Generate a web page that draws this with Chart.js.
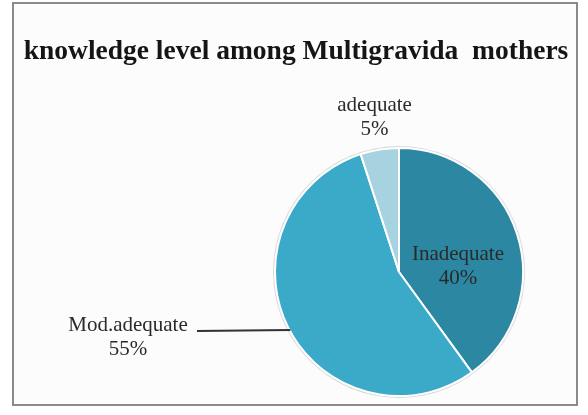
<!DOCTYPE html>
<html>
<head>
<meta charset="utf-8">
<script src="https://cdn.jsdelivr.net/npm/chart.js@4/dist/chart.umd.min.js"></script>
<style>
  html, body { margin: 0; padding: 0; background: #ffffff; }
  #wrap { width: 588px; height: 415px; position: relative; }
</style>
</head>
<body>
<div id="wrap"><canvas id="pie" width="588" height="415"></canvas></div>
<script>
const chartTitle = "knowledge level among Multigravida  mothers";
const labels = ["Inadequate", "Mod.adequate", "adequate"];
const values = [40, 55, 5];
const sliceColors = ["#2c87a2", "#3ba9c8", "#a7d3e1"];

// frame, title and the grey rim behind the pie
const framePlugin = {
    id: "frame",
    beforeDraw(chart) {
        const ctx = chart.ctx;
        ctx.save();
        ctx.fillStyle = "#fcfcfc";
        ctx.fillRect(13, 3, 564, 402);
        ctx.strokeStyle = "#8a8a8a";
        ctx.lineWidth = 2;
        ctx.strokeRect(13, 3, 564, 402);
        ctx.fillStyle = "#151515";
        ctx.font = "bold 27.5px 'Liberation Serif', serif";
        ctx.textAlign = "center";
        ctx.textBaseline = "alphabetic";
        ctx.fillText(chartTitle, 296, 59);
        ctx.restore();
    },
    beforeDatasetsDraw(chart) {
        const arc = chart.getDatasetMeta(0).data[0];
        const ctx = chart.ctx;
        ctx.save();
        ctx.beginPath();
        ctx.arc(arc.x, arc.y, arc.outerRadius + 2, 0, Math.PI * 2);
        ctx.fillStyle = "#d9d9d9";
        ctx.fill();
        ctx.restore();
    },
};

// slice labels: name on first line, percent below
const labelPlugin = {
    id: "sliceLabels",
    afterDatasetsDraw(chart) {
        const meta = chart.getDatasetMeta(0);
        const ctx = chart.ctx;
        const total = values.reduce((a, b) => a + b, 0);
        ctx.save();
        ctx.font = "21px 'Liberation Serif', serif";
        ctx.textAlign = "center";
        ctx.textBaseline = "middle";
        ctx.fillStyle = "#2a2a2a";
        meta.data.forEach((arc, i) => {
            const mid = (arc.startAngle + arc.endAngle) / 2;
            const pct = Math.round((values[i] / total) * 100) + "%";
            let x, y;
            if (i === 0) {
                x = arc.x + Math.cos(mid) * arc.outerRadius * 0.5;
                y = arc.y + Math.sin(mid) * arc.outerRadius * 0.5 + 14;
            } else if (i === 2) {
                x = arc.x + Math.cos(mid) * (arc.outerRadius + 32);
                y = arc.y + Math.sin(mid) * (arc.outerRadius + 32);
            } else {
                // leader line out to the left
                const ey = arc.y + 58;
                const ex = arc.x - Math.sqrt(arc.outerRadius ** 2 - 58 ** 2);
                ctx.beginPath();
                ctx.moveTo(ex + 1, ey);
                ctx.lineTo(197, ey + 1);
                ctx.strokeStyle = "#333";
                ctx.lineWidth = 2;
                ctx.stroke();
                x = 128;
                y = ey + 7;
            }
            ctx.fillText(labels[i], x, y - 12);
            ctx.fillText(pct, x, y + 12);
        });
        ctx.restore();
    },
};

new Chart(document.getElementById("pie"), {
    type: "pie",
    data: {
        labels: labels,
        datasets: [
            {
                data: values,
                backgroundColor: sliceColors,
                borderColor: "#ffffff",
                borderWidth: 2,
            },
        ],
    },
    options: {
        responsive: false,
        animation: false,
        devicePixelRatio: 1,
        layout: {
            padding: { left: 274, right: 64, top: 147, bottom: 18 },
        },
        plugins: {
            legend: { display: false },
            tooltip: { enabled: false },
            title: { display: false },
        },
    },
    plugins: [framePlugin, labelPlugin],
});
</script>
</body>
</html>
